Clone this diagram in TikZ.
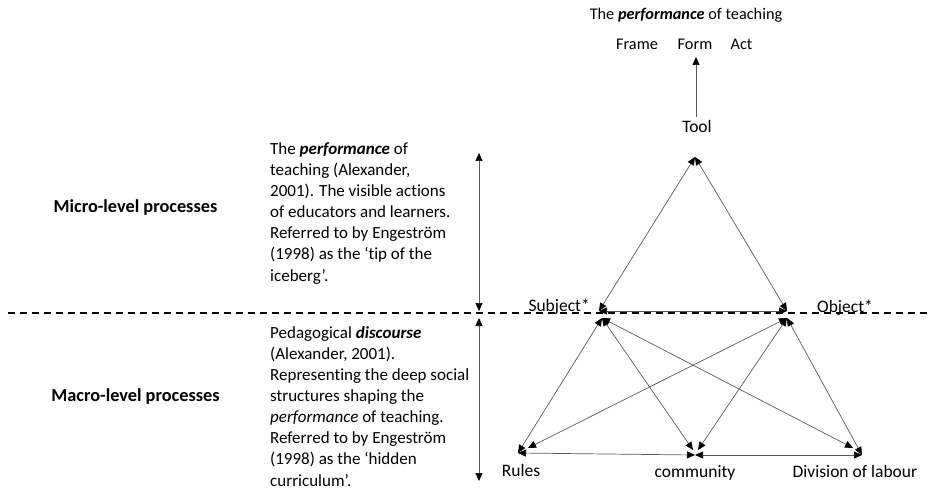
\documentclass[tikz,border=0pt]{standalone}
\usepackage{fontspec}
\setmainfont{Carlito}[Ligatures=NoCommon]
\usetikzlibrary{arrows.meta}
\begin{document}
\begin{tikzpicture}[x=1pt,y=-1pt,
  link/.style={draw=black!65, line width=0.7pt, {Triangle[length=8pt,width=7pt,color=black]}-{Triangle[length=8pt,width=7pt,color=black]}},
  single/.style={draw=black!65, line width=0.7pt, -{Triangle[length=8pt,width=7pt,color=black]}},
  body/.style={font=\fontsize{17pt}{21.1pt}\selectfont, align=left, inner sep=0pt, anchor=base west},
  lbl/.style={font=\fontsize{17.5pt}{21pt}\selectfont, inner sep=0pt, anchor=base},
  toptxt/.style={font=\fontsize{16.3pt}{20pt}\selectfont, inner sep=0pt, anchor=base},
  head/.style={font=\fontsize{18.3pt}{22pt}\selectfont\bfseries, inner sep=0pt, anchor=base},
  sep/.style={draw=black, line width=1.3pt, dash pattern=on 7pt off 5pt}]
\useasboundingbox (0,0) rectangle (932,500);

% separator
\coordinate (sepL) at (8,313);
\coordinate (sepR) at (931,313);
\draw[sep] (sepL) -- (sepR);

% headings
\node[head] (micro) at (135.5,212) {Micro-level processes};
\node[head] (macro) at (135.5,401) {Macro-level processes};

% left text blocks (base anchor = last line)
\node[body] (upper) at (270,281) {The \textbf{\textit{performance}} of\\teaching (Alexander,\\2001). The visible actions\\of educators and learners.\\Referred to by Engestr\"om\\(1998) as the `tip of the\\iceberg'.};
\node[body] (lower) at (270,486) {Pedagogical \textbf{\textit{discourse}}\\(Alexander, 2001).\\Representing the deep social\\structures shaping the\\\textit{performance} of teaching.\\Referred to by Engestr\"om\\(1998) as the `hidden\\curriculum'.};

% vertical double arrows
\coordinate (ua) at (479,153);
\coordinate (ub) at (479,311);
\coordinate (la) at (479,318);
\coordinate (lb) at (479,481);
\draw[link] (ua) -- (ub);
\draw[link] (la) -- (lb);

% top labels
\node[toptxt] (perf) at (686,20) {The \textbf{\textit{performance}} of teaching};
\node[toptxt] (frame) at (637,50) {Frame};
\node[toptxt] (form) at (695,50) {Form};
\node[toptxt] (act) at (741.5,50) {Act};
\node[lbl] (tool) at (697,133) {Tool};
\coordinate (toolTop) at (696,117);
\coordinate (formBot) at (696,57);
\draw[single] (toolTop) -- (formBot);

% triangle vertices
\coordinate (T) at (695,157);
\coordinate (S) at (599,311);
\coordinate (O) at (787,311);
\coordinate (Sl) at (602,318);
\coordinate (Ol) at (787,318);
\coordinate (R) at (518,453);
\coordinate (C) at (695,455);
\coordinate (D) at (862,455);
\coordinate (Rr) at (528,448);
\coordinate (Cl) at (693,450);
\coordinate (Cr) at (698,450);
\coordinate (Dl) at (853,448);

\node[lbl, anchor=base east] (subj) at (590,311) {Subject*};
\node[lbl, anchor=base west] (obj) at (817,312) {Object*};
\node[lbl] (rules) at (521,476) {Rules};
\node[lbl] (comm) at (695,477) {community};
\node[lbl] (div) at (855,477) {Division of labour};

\draw[link] (T) -- (S);
\draw[link] (T) -- (O);
\draw[link] (S) -- (O);
\draw[link] (Sl) -- (R);
\draw[link] (Sl) -- (Cl);
\draw[link] (Sl) -- (Dl);
\draw[link] (Ol) -- (Rr);
\draw[link] (Ol) -- (Cr);
\draw[link] (Ol) -- (D);
\draw[link] (R) -- (C);
\draw[link] (C) -- (D);
\end{tikzpicture}
\end{document}
